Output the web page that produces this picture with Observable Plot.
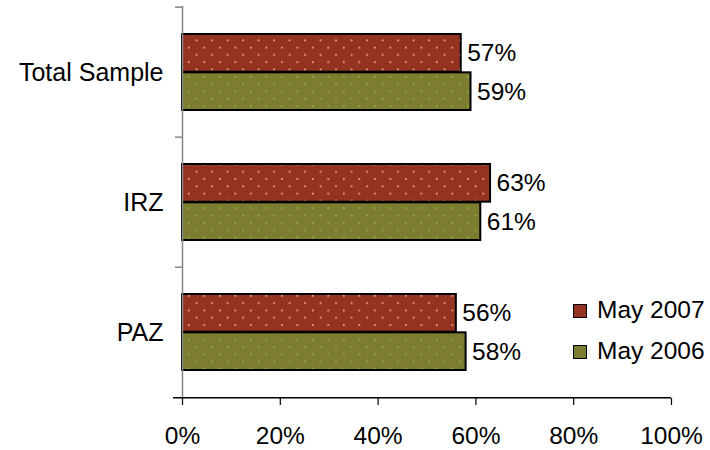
<!DOCTYPE html>
<html><head><meta charset="utf-8">
<script src="https://cdn.jsdelivr.net/npm/d3@7"></script>
<script src="https://cdn.jsdelivr.net/npm/@observablehq/plot@0.6"></script>
<style>
body{margin:0;background:#fff;font-family:"Liberation Sans",Arial,sans-serif;}
#wrap{position:relative;width:710px;height:450px;overflow:hidden;}
.lg{position:absolute;left:573px;font-size:24.5px;line-height:28px;color:#000;white-space:nowrap;}
.lg .sw{position:absolute;left:0;width:12px;height:12px;border:1.5px solid #000;}
.lg .tx{position:absolute;left:24px;top:0;}
</style></head><body><div id="wrap"></div>
<script>
const categories = ["Total Sample", "IRZ", "PAZ"];
const seriesNames = ["May 2007", "May 2006"];
const may2007 = [0.57, 0.63, 0.56];
const may2006 = [0.59, 0.61, 0.58];
const xTicks = [0, 0.2, 0.4, 0.6, 0.8, 1];
const colors = {"May 2007": "#943322", "May 2006": "#7d7d32"};
const dotColors = {"May 2007": "#f0c88c", "May 2006": "#8fbf3c"};

const rows07 = categories.map((c, i) => ({category: c, series: seriesNames[0], value: may2007[i]}));
const rows06 = categories.map((c, i) => ({category: c, series: seriesNames[1], value: may2006[i]}));

const W = 710, H = 450, mT = 6, mB = 52, mL = 182, mR = 39;
const bw = (H - mT - mB) / categories.length;
const pad = 27, barH = (bw - 2 * pad) / 2;
const pctFmt = d => Math.round(d * 100) + "%";
const xPerPx = 1 / (W - mL - mR);

const plot = Plot.plot({
  width: W, height: H,
  marginTop: mT, marginBottom: mB, marginLeft: mL, marginRight: mR,
  style: {fontFamily: "'Liberation Sans', Arial, sans-serif", color: "#000", background: "#fff"},
  x: {domain: [0, 1], label: null},
  y: {domain: categories, padding: 0, label: null},
  marks: [
    Plot.barX(rows07, {x: "value", y: "category", fill: "url(#p07)", stroke: "#000", strokeWidth: 2,
      insetTop: pad, insetBottom: bw - pad - barH}),
    Plot.barX(rows06, {x: "value", y: "category", fill: "url(#p06)", stroke: "#000", strokeWidth: 2,
      insetTop: pad + barH, insetBottom: pad}),
    Plot.text(rows07, {x: "value", y: "category", text: d => pctFmt(d.value), dx: 6, dy: -barH / 2,
      textAnchor: "start", fontSize: 24.5, fill: "#000"}),
    Plot.text(rows06, {x: "value", y: "category", text: d => pctFmt(d.value), dx: 6, dy: barH / 2,
      textAnchor: "start", fontSize: 24.5, fill: "#000"}),
    Plot.ruleX([0], {stroke: "#868686", strokeWidth: 1.5}),
    Plot.ruleY(categories, {y: d => d, dy: -bw / 2, x1: -7 * xPerPx, x2: 0, stroke: "#868686", strokeWidth: 1.5}),
    Plot.ruleY([categories[categories.length - 1]], {y: d => d, dy: bw / 2, x1: -9 * xPerPx, x2: 1, stroke: "#000", strokeWidth: 1.5}),
    Plot.axisX({ticks: xTicks, tickFormat: pctFmt, tickSize: 7, tickPadding: 21, fontSize: 24.5, stroke: "#000", strokeWidth: 1.2}),
    Plot.axisY({tickSize: 0, tickPadding: 19, fontSize: 25})
  ]
});

// dotted patterns
const ns = "http://www.w3.org/2000/svg";
const defs = document.createElementNS(ns, "defs");
[["p07", "May 2007"], ["p06", "May 2006"]].forEach(([id, s]) => {
  const p = document.createElementNS(ns, "pattern");
  p.setAttribute("id", id);
  p.setAttribute("patternUnits", "userSpaceOnUse");
  p.setAttribute("width", 15.5);
  p.setAttribute("height", 14.6);
  const bg = document.createElementNS(ns, "rect");
  bg.setAttribute("width", 15.5); bg.setAttribute("height", 14.6); bg.setAttribute("fill", colors[s]);
  p.appendChild(bg);
  [[2, 3], [9.75, 10.3]].forEach(([cx, cy]) => {
    const c = document.createElementNS(ns, "rect");
    c.setAttribute("x", cx); c.setAttribute("y", cy); c.setAttribute("width", 1.6); c.setAttribute("height", 1.6);
    c.setAttribute("fill", dotColors[s]);
    p.appendChild(c);
  });
  defs.appendChild(p);
});
plot.insertBefore(defs, plot.firstChild);

const wrap = document.getElementById("wrap");
wrap.appendChild(plot);

// legend
const legendTops = [296, 337];
seriesNames.forEach((s, i) => {
  const d = document.createElement("div");
  d.className = "lg";
  d.style.top = legendTops[i] + "px";
  d.innerHTML = `<span class="sw" style="top:8px;background:${colors[s]}"></span><span class="tx">${s}</span>`;
  wrap.appendChild(d);
});
</script>
</body></html>
